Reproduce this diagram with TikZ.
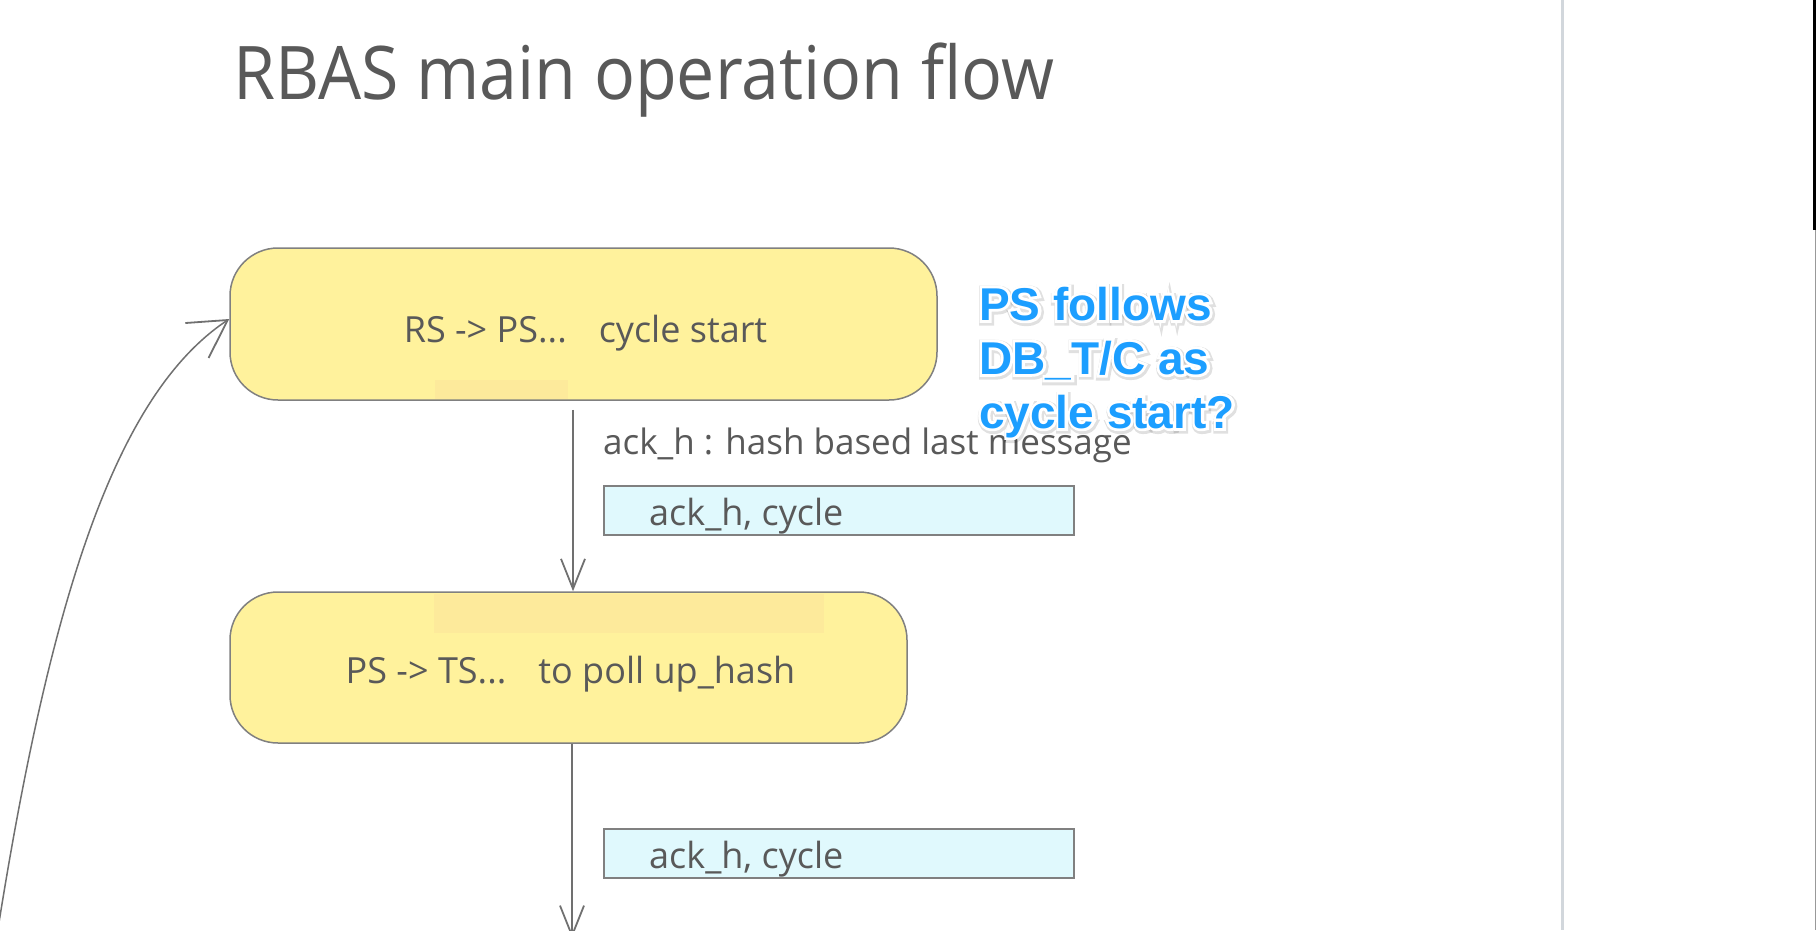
\documentclass[tikz,border=0pt]{standalone}
\usepackage{fontspec}
\setmainfont{Open Sans}
\newfontfamily\titlefont[FakeStretch=0.92]{Open Sans}
\newfontfamily\annfont{Liberation Sans Bold}
\newfontfamily\annoutline[FakeBold=12]{Liberation Sans Bold}
\newfontfamily\annshadow[FakeBold=18]{Liberation Sans Bold}
\usetikzlibrary{arrows.meta}
\definecolor{txtgray}{HTML}{595959}
\definecolor{linegray}{HTML}{707070}
\definecolor{boxborder}{HTML}{808080}
\definecolor{boxyellow}{HTML}{FFF29C}
\definecolor{faintyellow}{HTML}{FDEA9B}
\definecolor{boxcyan}{HTML}{E0F9FD}
\definecolor{annblue}{HTML}{1C9EFF}
\definecolor{sepgray}{HTML}{D2D7DC}
\begin{document}
\begin{tikzpicture}[x=1pt,y=-1pt,
  flowbox/.style={draw=boxborder, line width=1.5pt, fill=boxyellow, rounded corners=48pt, inner sep=0pt},
  databox/.style={draw=boxborder, line width=2pt, fill=boxcyan, inner sep=0pt, anchor=north west},
  plaintext/.style={inner sep=0pt, anchor=base west, text=txtgray, font=\fontsize{36}{42}\selectfont},
  boxtext/.style={inner sep=0pt, anchor=base, text=txtgray, font=\fontsize{36}{42}\selectfont},
  titletext/.style={inner sep=0pt, anchor=base west, text=txtgray, font=\titlefont\fontsize{74}{80}\selectfont},
  anntext/.style={inner sep=0pt, anchor=base west, font=\annfont\fontsize{46}{54}\selectfont},
  annback/.style={inner sep=0pt, anchor=base west, font=\annoutline\fontsize{46}{54}\selectfont},
  annshade/.style={inner sep=0pt, anchor=base west, font=\annshadow\fontsize{46}{54}\selectfont},
  flowarrow/.style={draw=linegray, line width=1.5pt, -{Straight Barb[length=30pt,width=24pt,line width=1.8pt]}},
  curvearrow/.style={draw=linegray, line width=1.5pt, -{Straight Barb[length=37pt,width=42pt,line width=1.8pt]}}
]
\useasboundingbox (0,0) rectangle (1816,930);
\fill[white] (0,0) rectangle (1816,930);

% title
\node[titletext] (title) at (233,99) {RBAS main operation flow};

% flow boxes
\node[flowbox, minimum width=707pt, minimum height=152pt] (box1) at (583.5,324) {};
\fill[faintyellow] (435,380) rectangle (568,398.5);
\node[boxtext] (box1txt) at (585.5,342) {RS -> PS...\hspace{32pt}cycle start};

\node[flowbox, minimum width=677pt, minimum height=151pt] (box2) at (568.5,667.5) {};
\fill[faintyellow] (434,594) rectangle (824,633);
\node[boxtext] (box2txt) at (570.5,683) {PS -> TS...\hspace{32pt}to poll up\_hash};

% labels and data boxes
\node[plaintext, font=\fontsize{35}{42}\selectfont] (lbl) at (603,454) {ack\_h : hash based last message};
\node[databox, minimum width=470pt, minimum height=49pt] (data1) at (603,485) {};
\node[plaintext] (data1txt) at (649,525) {ack\_h, cycle};
\node[databox, minimum width=470pt, minimum height=49pt] (data2) at (603,828) {};
\node[plaintext] (data2txt) at (649,868) {ack\_h, cycle};

% arrows
\coordinate (a2end) at (572,938);
\coordinate (cstart) at (-3,935);
\draw[flowarrow] ([xshift=-10.5pt,yshift=-9pt]box1.south) -- ([xshift=4.5pt]box2.north);
\draw[flowarrow] ([xshift=3.5pt]box2.south) -- (a2end);
\draw[curvearrow] (cstart) .. controls (50,600) and (115,395) .. ([yshift=5pt]box1.west);

% annotation
\foreach \t/\yy [count=\k] in {{PS follows}/320, {DB\_T/C as}/374, {cycle start?}/428} {
  \node[annshade, text=black, opacity=0.12] (shade\k) at (980,\yy+1.5) {\t};
}
\foreach \t/\yy [count=\k] in {{PS follows}/320, {DB\_T/C as}/374, {cycle start?}/428} {
  \node[annback, text=white] (back\k) at (979,\yy) {\t};
}
\foreach \t/\yy [count=\k] in {{PS follows}/320, {DB\_T/C as}/374, {cycle start?}/428} {
  \node[anntext, text=annblue] (ann\k) at (979,\yy) {\t};
}

% right side separators
\draw[sepgray, line width=3pt] (1562,0) -- (1562,930);
\fill[black] (1813,0) rectangle (1816,230);
\draw[black!40, line width=1pt] (1815,230) -- (1815,930);
\end{tikzpicture}
\end{document}
